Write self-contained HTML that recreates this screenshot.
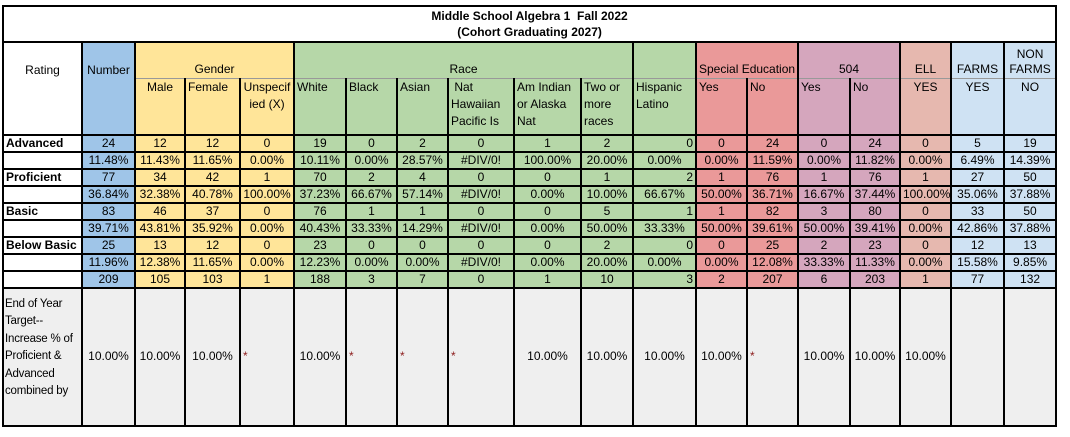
<!DOCTYPE html>
<html><head><meta charset="utf-8"><style>
body{margin:0;background:#fff;width:1070px;height:437px;overflow:hidden;font-family:"Liberation Sans",Arial,sans-serif;font-size:12px;color:#000}
table{position:absolute;left:2px;top:5px;border-collapse:collapse;table-layout:fixed;width:1053px}
td{border:2px solid #000;padding:0 2px;white-space:nowrap;overflow:hidden;text-align:center;line-height:15px;height:15px}
.t td{font-weight:bold;height:34px;line-height:16px;background:#fff}
.g td{height:34px;vertical-align:bottom;border-bottom:1px solid #999;padding-bottom:1px}
.s td{height:55px;vertical-align:top;text-align:left;white-space:normal;line-height:17px;border-top:1px solid #999}
.l{text-align:left;font-weight:bold}
.r{text-align:right}
.b{background:#9fc5e8}.y{background:#ffe599}.gr{background:#b6d7a8}.rd{background:#ea9999}.m{background:#d5a6bd}.sa{background:#e6b8af}.lb{background:#cfe2f3}
.last td{background:#efefef;height:136px;line-height:17.5px}
.last td.st{text-align:left;color:#8b1a1a}
.last td.lab{text-align:left;white-space:normal;font-size:11.5px;padding:0 1px;letter-spacing:-0.2px}
</style></head><body>
<table>
<colgroup>
<col style="width:79px"><col style="width:53px"><col style="width:50px"><col style="width:55px"><col style="width:54px"><col style="width:52px"><col style="width:51px"><col style="width:51px"><col style="width:66px"><col style="width:67px"><col style="width:52px"><col style="width:63px"><col style="width:51px"><col style="width:51px"><col style="width:52px"><col style="width:50px"><col style="width:51px"><col style="width:53px"><col style="width:52px">
</colgroup>
<tr class="t"><td colspan="19">Middle School Algebra 1&nbsp; Fall 2022<br>(Cohort Graduating 2027)</td></tr>
<tr class="g"><td rowspan="2" style="vertical-align:top;padding-top:20px;background:#fff">Rating</td><td rowspan="2" class="b" style="vertical-align:top;padding-top:20px">Number</td><td colspan="3" class="y">Gender</td><td colspan="6" class="gr">Race</td><td class="gr"></td><td colspan="2" class="rd">Special Education</td><td colspan="2" class="m">504</td><td class="sa">ELL</td><td class="lb">FARMS</td><td class="lb">NON<br>FARMS</td></tr>
<tr class="s"><td class="y" style="text-align:center">Male</td><td class="y">Female</td><td class="y" style="text-align:center">Unspecif ied (X)</td><td class="gr">White</td><td class="gr">Black</td><td class="gr">Asian</td><td class="gr">&nbsp;Nat Hawaiian Pacific Is</td><td class="gr">Am Indian or Alaska Nat</td><td class="gr">Two or more races</td><td class="gr">Hispanic Latino</td><td class="rd">Yes</td><td class="rd">No</td><td class="m">Yes</td><td class="m">No</td><td class="sa" style="text-align:center">YES</td><td class="lb" style="text-align:center">YES</td><td class="lb" style="text-align:center">NO</td></tr>
<tr><td class="l">Advanced</td><td class="b">24</td><td class="y">12</td><td class="y">12</td><td class="y">0</td><td class="gr">19</td><td class="gr">0</td><td class="gr">2</td><td class="gr">0</td><td class="gr">1</td><td class="gr">2</td><td class="gr r">0</td><td class="rd">0</td><td class="rd">24</td><td class="m">0</td><td class="m">24</td><td class="sa">0</td><td class="lb">5</td><td class="lb">19</td></tr>
<tr><td></td><td class="b">11.48%</td><td class="y">11.43%</td><td class="y">11.65%</td><td class="y">0.00%</td><td class="gr">10.11%</td><td class="gr">0.00%</td><td class="gr">28.57%</td><td class="gr">#DIV/0!</td><td class="gr">100.00%</td><td class="gr">20.00%</td><td class="gr">0.00%</td><td class="rd">0.00%</td><td class="rd">11.59%</td><td class="m">0.00%</td><td class="m">11.82%</td><td class="sa">0.00%</td><td class="lb">6.49%</td><td class="lb">14.39%</td></tr>
<tr><td class="l">Proficient</td><td class="b">77</td><td class="y">34</td><td class="y">42</td><td class="y">1</td><td class="gr">70</td><td class="gr">2</td><td class="gr">4</td><td class="gr">0</td><td class="gr">0</td><td class="gr">1</td><td class="gr r">2</td><td class="rd">1</td><td class="rd">76</td><td class="m">1</td><td class="m">76</td><td class="sa">1</td><td class="lb">27</td><td class="lb">50</td></tr>
<tr><td></td><td class="b">36.84%</td><td class="y">32.38%</td><td class="y">40.78%</td><td class="y">100.00%</td><td class="gr">37.23%</td><td class="gr">66.67%</td><td class="gr">57.14%</td><td class="gr">#DIV/0!</td><td class="gr">0.00%</td><td class="gr">10.00%</td><td class="gr">66.67%</td><td class="rd">50.00%</td><td class="rd">36.71%</td><td class="m">16.67%</td><td class="m">37.44%</td><td class="sa">100.00%</td><td class="lb">35.06%</td><td class="lb">37.88%</td></tr>
<tr><td class="l">Basic</td><td class="b">83</td><td class="y">46</td><td class="y">37</td><td class="y">0</td><td class="gr">76</td><td class="gr">1</td><td class="gr">1</td><td class="gr">0</td><td class="gr">0</td><td class="gr">5</td><td class="gr r">1</td><td class="rd">1</td><td class="rd">82</td><td class="m">3</td><td class="m">80</td><td class="sa">0</td><td class="lb">33</td><td class="lb">50</td></tr>
<tr><td></td><td class="b">39.71%</td><td class="y">43.81%</td><td class="y">35.92%</td><td class="y">0.00%</td><td class="gr">40.43%</td><td class="gr">33.33%</td><td class="gr">14.29%</td><td class="gr">#DIV/0!</td><td class="gr">0.00%</td><td class="gr">50.00%</td><td class="gr">33.33%</td><td class="rd">50.00%</td><td class="rd">39.61%</td><td class="m">50.00%</td><td class="m">39.41%</td><td class="sa">0.00%</td><td class="lb">42.86%</td><td class="lb">37.88%</td></tr>
<tr><td class="l">Below Basic</td><td class="b">25</td><td class="y">13</td><td class="y">12</td><td class="y">0</td><td class="gr">23</td><td class="gr">0</td><td class="gr">0</td><td class="gr">0</td><td class="gr">0</td><td class="gr">2</td><td class="gr r">0</td><td class="rd">0</td><td class="rd">25</td><td class="m">2</td><td class="m">23</td><td class="sa">0</td><td class="lb">12</td><td class="lb">13</td></tr>
<tr><td></td><td class="b">11.96%</td><td class="y">12.38%</td><td class="y">11.65%</td><td class="y">0.00%</td><td class="gr">12.23%</td><td class="gr">0.00%</td><td class="gr">0.00%</td><td class="gr">#DIV/0!</td><td class="gr">0.00%</td><td class="gr">20.00%</td><td class="gr">0.00%</td><td class="rd">0.00%</td><td class="rd">12.08%</td><td class="m">33.33%</td><td class="m">11.33%</td><td class="sa">0.00%</td><td class="lb">15.58%</td><td class="lb">9.85%</td></tr>
<tr><td></td><td class="b">209</td><td class="y">105</td><td class="y">103</td><td class="y">1</td><td class="gr">188</td><td class="gr">3</td><td class="gr">7</td><td class="gr">0</td><td class="gr">1</td><td class="gr">10</td><td class="gr r">3</td><td class="rd">2</td><td class="rd">207</td><td class="m">6</td><td class="m">203</td><td class="sa">1</td><td class="lb">77</td><td class="lb">132</td></tr>
<tr class="last"><td class="lab">End of Year Target-- Increase % of Proficient &amp; Advanced combined by<br>&nbsp;</td><td>10.00%</td><td>10.00%</td><td>10.00%</td><td class="st">*</td><td>10.00%</td><td class="st">*</td><td class="st">*</td><td class="st">*</td><td>10.00%</td><td>10.00%</td><td>10.00%</td><td>10.00%</td><td class="st">*</td><td>10.00%</td><td>10.00%</td><td>10.00%</td><td></td><td></td></tr>
</table>
</body></html>
